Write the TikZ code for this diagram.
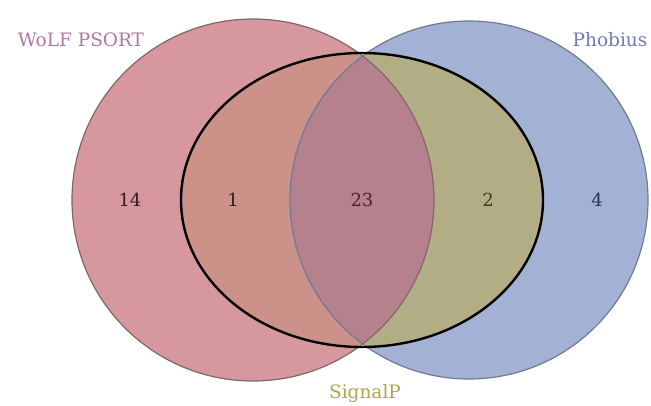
\documentclass[tikz,border=0pt]{standalone}
\usepackage{fontspec}
\setmainfont{DejaVu Serif}
\definecolor{cL}{RGB}{214,152,158}
\definecolor{cR}{RGB}{163,177,212}
\definecolor{cLE}{RGB}{204,146,138}
\definecolor{cRE}{RGB}{179,173,134}
\definecolor{cLR}{RGB}{180,129,141}
\definecolor{oL}{RGB}{128,104,104}
\definecolor{oR}{RGB}{112,122,150}
\definecolor{tW}{RGB}{176,118,166}
\definecolor{tP}{RGB}{108,124,176}
\definecolor{tS}{RGB}{176,162,84}
\definecolor{nL}{RGB}{50,28,28}
\definecolor{nM}{RGB}{72,34,44}
\definecolor{nR}{RGB}{62,58,32}
\definecolor{nB}{RGB}{40,52,92}
\begin{document}
\begin{tikzpicture}[x=1pt,y=-1pt,
  setlabel/.style={font=\fontsize{18.5}{22}\selectfont},
  count/.style={font=\fontsize{18}{21}\selectfont}]
\useasboundingbox (0,0) rectangle (651,405);
\def\leftc{(253,200) circle[radius=181]}
\def\rightc{(469,200) circle[radius=179]}
\def\ell{(362,200) ellipse[x radius=181,y radius=147]}
\fill[cL] \leftc;
\fill[cR] \rightc;
\begin{scope}
  \clip \ell;
  \fill[cLE] \leftc;
  \fill[cRE] \rightc;
\end{scope}
\begin{scope}
  \clip \leftc;
  \fill[cLR] \rightc;
\end{scope}
\draw[oR, line width=1.2pt] \rightc;
\draw[oL, line width=1.2pt] \leftc;
\draw[black, line width=2.4pt] \ell;
\node[setlabel, text=tW] (wolf) at (81,40) {WoLF PSORT};
\node[setlabel, text=tP] (phob) at (610,40) {Phobius};
\node[setlabel, text=tS] (sigp) at (365,394) {SignalP};
\node[count, text=nL] (n14) at (130,200) {14};
\node[count, text=nL] (n1) at (233,200) {1};
\node[count, text=nM] (n23) at (362,200) {23};
\node[count, text=nR] (n2) at (488,200) {2};
\node[count, text=nB] (n4) at (597,200) {4};
\end{tikzpicture}
\end{document}
